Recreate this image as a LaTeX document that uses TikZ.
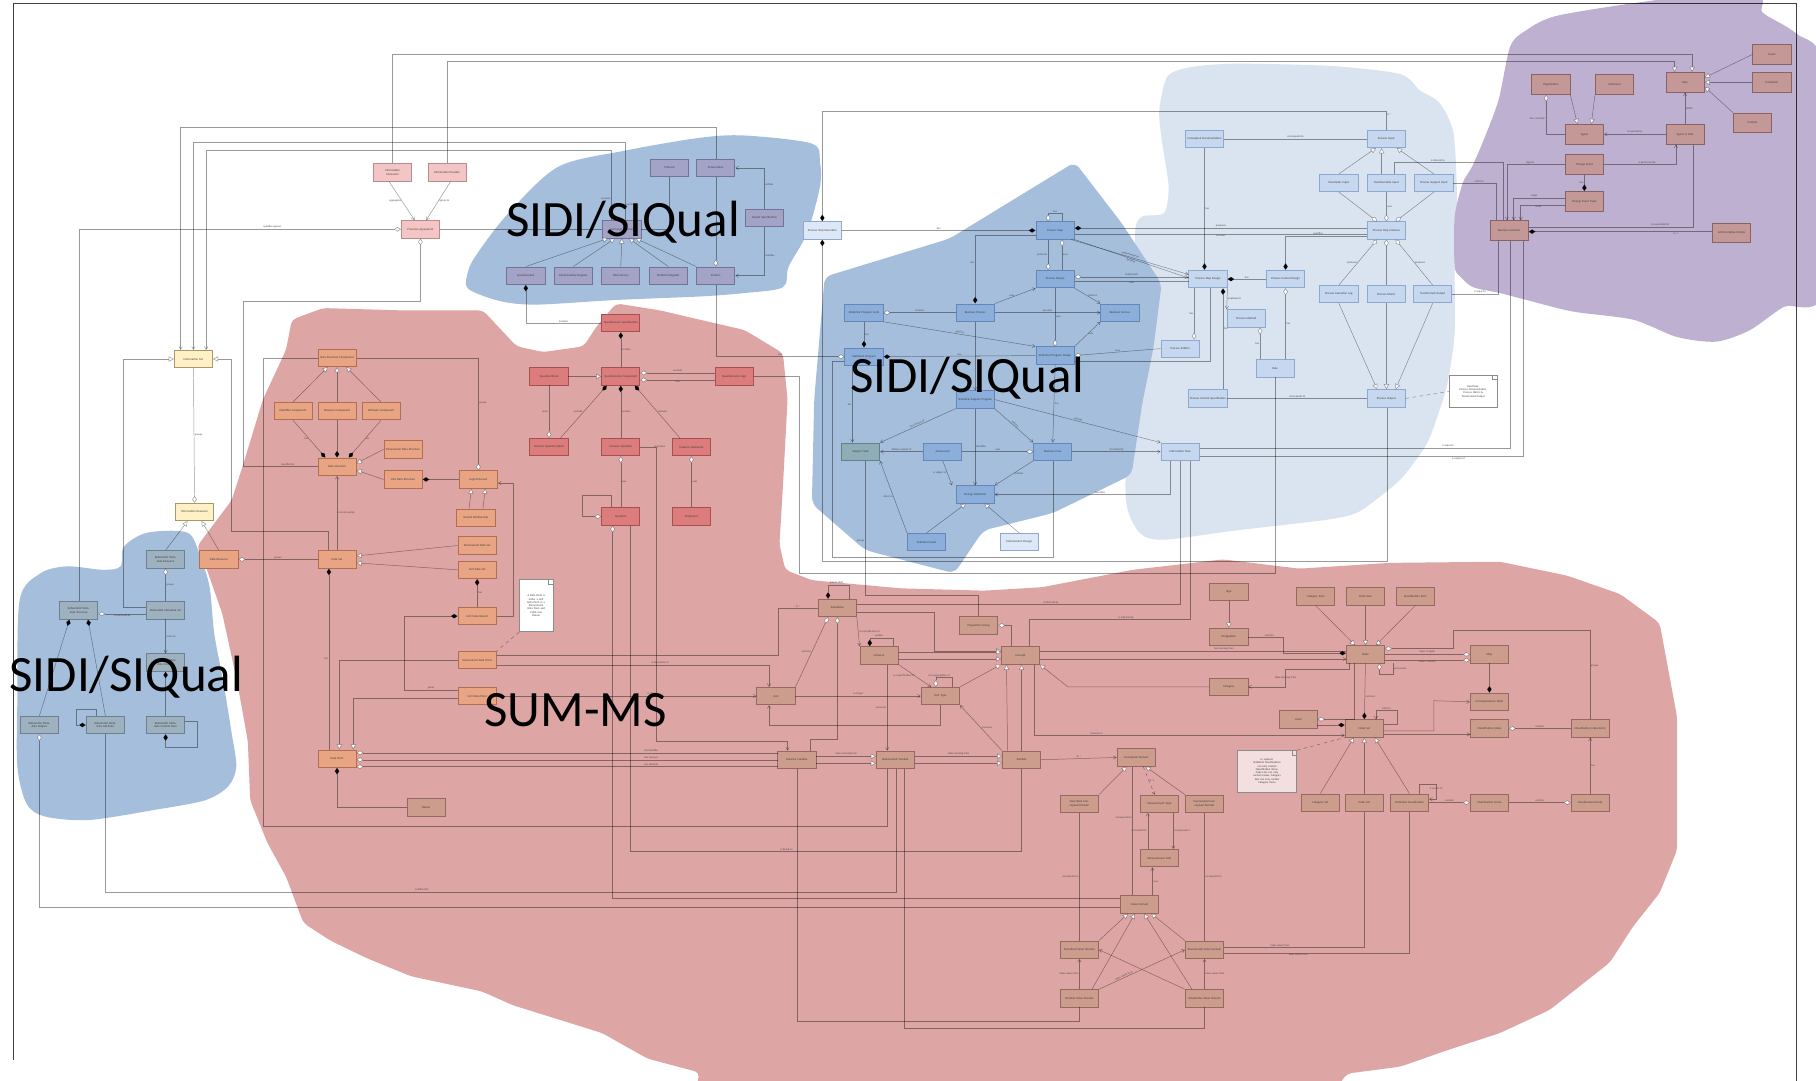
\documentclass[tikz,border=0pt]{standalone}
\usepackage{fontspec}
\setmainfont{Carlito}
\usetikzlibrary{arrows.meta}
\definecolor{blobB}{HTML}{A5BEDC}
\definecolor{blobL}{HTML}{DAE4F1}
\definecolor{blobP}{HTML}{BEB0D1}
\definecolor{blobR}{HTML}{DEA5A5}
\definecolor{pkF}{HTML}{F4C5C5}\definecolor{pkD}{HTML}{B88C8C}
\definecolor{ylF}{HTML}{FFF0C6}\definecolor{ylD}{HTML}{A89868}
\definecolor{tbF}{HTML}{A3A3C6}\definecolor{tbD}{HTML}{73739A}
\definecolor{gbF}{HTML}{9EB1BE}\definecolor{gbD}{HTML}{6E808D}
\definecolor{orF}{HTML}{E8A483}\definecolor{orD}{HTML}{B07050}
\definecolor{rqF}{HTML}{DC7C7C}\definecolor{rqD}{HTML}{A65050}
\definecolor{brF}{HTML}{CC9C8C}\definecolor{brD}{HTML}{946A60}
\definecolor{puF}{HTML}{C59898}\definecolor{puD}{HTML}{8A6262}
\definecolor{mbF}{HTML}{8CAEDA}\definecolor{mbD}{HTML}{6587B8}
\definecolor{tlF}{HTML}{8EADB5}\definecolor{tlD}{HTML}{62808A}
\definecolor{lbF}{HTML}{C6D8EF}\definecolor{lbD}{HTML}{8EA9CC}
\definecolor{ltF}{HTML}{DCE8F7}
\begin{document}
\begin{tikzpicture}[x=1pt,y=-1pt,
  cls/.style={rectangle,minimum width=33pt,minimum height=15pt,inner sep=1pt,text width=31pt,align=center,line width=0.7pt,font=\fontsize{2.6}{3}\selectfont,text=black!75},
  pkb/.style={cls,fill=pkF,draw=pkD},
  ylb/.style={cls,fill=ylF,draw=ylD},
  tbb/.style={cls,fill=tbF,draw=tbD},
  gbb/.style={cls,fill=gbF,draw=gbD},
  orb/.style={cls,fill=orF,draw=orD},
  rqb/.style={cls,fill=rqF,draw=rqD},
  brb/.style={cls,fill=brF,draw=brD},
  pub/.style={cls,fill=puF,draw=puD,minimum height=17pt},
  mbb/.style={cls,fill=mbF,draw=mbD},
  tlb/.style={cls,fill=tlF,draw=tlD},
  lbb/.style={cls,fill=lbF,draw=lbD},
  ltb/.style={cls,fill=ltF,draw=lbD},
  notebox/.style={rectangle,fill=white,draw=black!45,line width=0.5pt,inner sep=1pt,align=center,font=\fontsize{2.4}{2.8}\selectfont,text=black!75},
  ln/.style={draw=black,draw opacity=0.4,line width=0.42pt},
  gen/.style={-{Triangle[fill=white,length=4.5pt,width=4.5pt]}},
  ar/.style={-{Straight Barb[length=2.5pt,width=3pt]}},
  agg/.style={{Diamond[fill=white,length=6pt,width=4pt]}-},
  cmp/.style={{Diamond[length=6pt,width=4pt]}-},
  ml/.style={font=\fontsize{2.3}{2.6}\selectfont,text=black!70,inner sep=0.6pt},
  biglbl/.style={font=\fontsize{44}{50}\selectfont,text=black,inner sep=0pt,anchor=base west}
]
\useasboundingbox (0,0) rectangle (1568,933);
\fill[white] (0,0) rectangle (1568,933);

% ---------------- blobs ----------------
\fill[blobR,rounded corners=4pt] (247,302) -- (252,276) -- (279,266) -- (347,268) -- (417,268) -- (446,299) -- (469,304) -- (504,299) -- (515,282) -- (532,262) -- (570,268) -- (604,276) -- (643,285) -- (676,305) -- (680,345) -- (676,420) -- (673,470) -- (678,492) -- (701,501) -- (778,508) -- (850,510) -- (900,507) -- (978,492) -- (1056,483) -- (1122,491) -- (1200,486) -- (1295,485) -- (1353,497) -- (1399,513) -- (1433,538) -- (1448,619) -- (1448,734) -- (1433,771) -- (1410,800) -- (1390,831) -- (1338,872) -- (1295,892) -- (1249,907) -- (1209,921) -- (1163,927) -- (1150,945) -- (600,945) -- (604,926) -- (559,914) -- (520,892) -- (443,868) -- (416,856) -- (355,843) -- (316,827) -- (285,812) -- (262,797) -- (247,757) -- (231,728) -- (216,691) -- (214,640) -- (205,590) -- (192,530) -- (178,490) -- (170,472) -- (200,432) -- (210,401) -- (227,345) -- cycle;
\fill[blobL] plot[smooth cycle,tension=0.45] coordinates {(1001,95) (1008,66) (1028,58) (1067,55) (1150,57) (1209,64) (1226,78) (1243,89) (1255,115) (1258,173) (1256,230) (1256,288) (1250,330) (1243,354) (1232,383) (1211,412) (1190,430) (1171,443) (1144,449) (1067,458) (1005,466) (984,460) (972,430) (975,340) (982,260) (980,201) (986,187) (1005,184) (1009,161) (1003,120)};
\fill[blobP] plot[smooth cycle,tension=0.45] coordinates {(1304,40) (1318,26) (1347,13) (1448,-2) (1518,-2) (1522,11) (1551,29) (1575,60) (1575,250) (1540,265) (1511,285) (1482,295) (1448,291) (1410,276) (1358,269) (1318,259) (1295,253) (1272,248) (1261,239) (1256,230) (1256,187) (1263,158) (1271,144) (1281,121) (1294,86)};
\fill[blobB,rounded corners=6pt] (712,239) -- (820,206) -- (928,140) -- (968,192) -- (1003,245) -- (996,300) -- (986,350) -- (977,410) -- (909,443) -- (849,458) -- (824,495) -- (747,475) -- (701,435) -- (703,345) -- cycle;
\fill[blobB] plot[smooth cycle,tension=0.5] coordinates {(403,239) (410,222) (439,184) (482,144) (540,130) (604,119) (643,117) (701,124) (708,140) (708,161) (697,201) (681,230) (676,248) (643,253) (604,256) (532,259) (463,263) (432,260) (405,250)};
\fill[blobB] plot[smooth cycle,tension=0.5] coordinates {(17,518) (35,495) (58,489) (89,492) (104,489) (107,472) (127,460) (162,460) (173,481) (181,507) (185,547) (193,590) (200,633) (204,662) (197,679) (177,691) (135,699) (77,708) (39,705) (23,694) (15,662) (15,604)};

% ---------------- frame ----------------
\draw[black,draw opacity=0.75,line width=1pt] (12,915) -- (12,3) -- (1551,3) -- (1551,933);

% ---------------- nodes ----------------
\node[pkb] (p1) at (339,149) {Information\\Consumer};
\node[pkb] (p2) at (386,149) {Information Provider};
\node[pkb] (p3) at (363,198) {Provision Agreement};
\node[ylb] (y1) at (167,310) {Information Set};
\node[ylb] (y2) at (168,442) {Information Resource};

\node[tbb] (tb0) at (537,198) {Exchange Channel};
\node[tbb] (tb1) at (578,145) {Protocol};
\node[tbb] (tb2) at (618,145) {Presentation};
\node[tbb] (tb3) at (660,188) {Output Specification};
\node[tbb] (tb4) at (454,238) {Questionnaire};
\node[tbb] (tb5) at (495,238) {Administrative Register};
\node[tbb] (tb6) at (536,238) {Web Service};
\node[tbb] (tb7) at (577,238) {Statistical Register};
\node[tbb] (tb8) at (618,238) {Product};

\node[gbb] (g1) at (143,483) {Referential Metadata Resource};
\node[gbb] (g2) at (68,527) {Referential Metadata Structure};
\node[gbb] (g3) at (143,527) {Referential Metadata Set};
\node[gbb] (g4) at (143,572) {Referential Metadata Content};
\node[gbb] (g5) at (34,626) {Referential Metadata Subject};
\node[gbb] (g6) at (91,626) {Referential Metadata Attribute};
\node[gbb] (g7) at (143,626) {Referential Metadata Content Item};

\node[orb] (o1) at (291,309) {Data Structure Component};
\node[orb] (o2) at (253,355) {Identifier Component};
\node[orb] (o3) at (291,355) {Measure Component};
\node[orb] (o4) at (329,355) {Attribute Component};
\node[orb] (o5) at (348,388) {Dimensional Data Structure};
\node[orb] (o6) at (291,403) {Data Structure};
\node[orb] (o7) at (348,414) {Unit Data Structure};
\node[orb] (o8) at (413,414) {Logical Record};
\node[orb] (o9) at (411,447) {Record Relationship};
\node[orb] (o10) at (189,483) {Data Resource};
\node[orb] (o11) at (291,483) {Data Set};
\node[orb] (o12) at (412,471) {Dimensional Data Set};
\node[orb] (o13) at (412,492) {Unit Data Set};
\node[orb] (o14) at (412,532) {Unit Data Record};
\node[orb] (o15) at (412,570) {Dimensional Data Point};
\node[orb] (o16) at (412,601) {Unit Data Point};
\node[orb] (o17) at (291,655) {Data Point};
\node[brb] (o18) at (368,697) {Datum};
\node[notebox,minimum width=29pt,minimum height=45pt,text width=26pt] (note1) at (463,523) {A Data Point is\\either a Unit\\Data Point or a\\Dimensional\\Data Point and\\holds one\\Datum};

\node[rqb] (rq1) at (536,279) {Questionnaire Specification};
\node[rqb] (rq2) at (474,325) {Question Block};
\node[rqb] (rq3) at (536,325) {Questionnaire Component};
\node[rqb] (rq4) at (634,325) {Questionnaire Logic};
\node[rqb] (rq5) at (474,386) {Instance Question Block};
\node[rqb] (rq6) at (536,386) {Instance Question};
\node[rqb] (rq7) at (597,386) {Instance Statement};
\node[rqb] (rq8) at (536,446) {Question};
\node[rqb] (rq9) at (597,446) {Statement};

\node[brb] (b1) at (723,525) {Population};
\node[brb] (b2) at (845,540) {Population Group};
\node[brb] (b3) at (759,566) {Universe};
\node[brb] (b4) at (881,566) {Concept};
\node[brb] (b5) at (670,601) {Unit};
\node[brb] (b6) at (812,601) {Unit Type};
\node[brb] (b7) at (688,656) {Instance Variable};
\node[brb] (b8) at (773,656) {Represented Variable};
\node[brb] (b9) at (882,656) {Variable};
\node[brb] (b10) at (981,654) {Conceptual Domain};
\node[brb] (b11) at (932,694) {Described Conceptual Domain};
\node[brb] (b12) at (1001,694) {Measurement Type};
\node[brb] (b13) at (1040,694) {Enumerated Conceptual Domain};
\node[brb] (b14) at (1001,741) {Measurement Unit};
\node[brb] (b15) at (984,781) {Value Domain};
\node[brb] (b16) at (932,820) {Described Value Domain};
\node[brb] (b17) at (1040,820) {Enumerated Value Domain};
\node[brb] (b18) at (932,862) {Sentinel Value Domain};
\node[brb] (b19) at (1040,862) {Substantive Value Domain};

\node[brb] (c1) at (1061,511) {Sign};
\node[brb] (c2) at (1061,550) {Designation};
\node[brb] (c3) at (1061,593) {Category};
\node[brb] (c4) at (1136,515) {Category Item};
\node[brb] (c5) at (1179,515) {Code Item};
\node[brb] (c6) at (1222,515) {Classification Item};
\node[brb] (c7) at (1179,565) {Node};
\node[brb] (c8) at (1286,565) {Map};
\node[brb] (c9) at (1286,606) {Correspondence Table};
\node[brb] (c10) at (1121,621) {Level};
\node[brb] (c11) at (1178,629) {Node Set};
\node[brb] (c12) at (1286,629) {Classification Index};
\node[brb] (c13) at (1373,629) {Classification Index Entry};
\node[brb] (c14) at (1140,693) {Category Set};
\node[brb] (c15) at (1178,693) {Code List};
\node[brb] (c16) at (1217,693) {Statistical Classification};
\node[brb] (c17) at (1286,693) {Classification Series};
\node[brb] (c18) at (1373,693) {Classification Family};
\node[notebox,minimum width=51pt,minimum height=36pt,text width=48pt,fill=blobR!35] (note2) at (1094,666) {In systems:\\Statistical Classifications\\can only contain\\Classification Items,\\Code Lists can only\\contain Codes, Category\\Sets can only contain\\Category Items};

\node[pub] (u1) at (1339,73) {Organization};
\node[pub] (u2) at (1394,73) {Individual};
\node[pub] (u3) at (1455,71) {Role};
\node[pub] (u4) at (1530,47) {Guest};
\node[pub] (u5) at (1530,71) {Institution};
\node[pub] (u6) at (1513,106) {Context};
\node[pub] (u7) at (1368,116) {Agent};
\node[pub] (u8) at (1455,116) {Agent in Role};
\node[pub] (u9) at (1368,142) {Change Event};
\node[pub] (u10) at (1368,174) {Change Event Tuple};
\node[pub] (u11) at (1303,199) {Business Function};
\node[pub] (u12) at (1495,201) {Administrative Details};

\node[ltb] (m0) at (710,199) {Process Step Execution};
\node[mbb] (m1) at (911,199) {Process Step};
\node[mbb] (m2) at (911,241) {Process Design};
\node[mbb] (m3) at (746,270) {Statistical Program Cycle};
\node[mbb] (m4) at (842,270) {Business Process};
\node[mbb] (m5) at (967,270) {Business Service};
\node[mbb] (m6) at (746,308) {Statistical Program};
\node[mbb] (m7) at (911,307) {Statistical Program Design};
\node[mbb] (m8) at (842,345) {Statistical Support Program};
\node[tlb] (m9) at (743,390) {Subject Field};
\node[mbb] (m10) at (814,390) {Assessment};
\node[mbb] (m11) at (909,390) {Business Case};
\node[mbb] (m12) at (842,427) {Change Definition};
\node[mbb] (m13) at (800,468) {Statistical Need};
\node[ltb] (m14) at (880,468) {Environment Change};

\node[lbb] (l1) at (1040,120) {Conceptual Documentation};
\node[lbb] (l2) at (1197,120) {Process Input};
\node[lbb] (l3) at (1156,158) {Parameter Input};
\node[lbb] (l4) at (1197,158) {Transformable Input};
\node[lbb] (l5) at (1238,158) {Process Support Input};
\node[lbb] (l6) at (1197,199) {Process Step Instance};
\node[lbb] (l7) at (1043,241) {Process Step Design};
\node[lbb] (l8) at (1110,241) {Process Control Design};
\node[lbb] (l9) at (1156,254) {Process Execution Log};
\node[lbb] (l10) at (1197,254) {Process Metric};
\node[lbb] (l11) at (1237,254) {Transformed Output};
\node[lbb] (l12) at (1076,275) {Process Method};
\node[lbb] (l13) at (1019,301) {Process Pattern};
\node[lbb] (l14) at (1101,318) {Rule};
\node[lbb] (l15) at (1043,344) {Process Control Specification};
\node[lbb] (l16) at (1197,344) {Process Output};
\node[lbb] (l17) at (1019,390) {Information Flow};
\node[notebox,minimum width=41pt,minimum height=28pt,text width=38pt] (note3) at (1272,338) {Describes:\\Process Documentation,\\Process Metric \&\\Transformed Output};

\foreach \n in {note1,note2,note3} \draw[black!45,line width=0.5pt] ([xshift=-4pt]\n.north east) -- ([xshift=-4pt,yshift=-4pt]\n.north east) -- ([yshift=-4pt]\n.north east);

% ---------------- connectors: top / left ----------------
\draw[ln,gen] (p1.north) |- (1461,47) -- ([xshift=6]u3.north);
\draw[ln,gen] (p2.north) |- (1446,53) -- ([xshift=-9]u3.north);
\draw[ln,ar] ([xshift=-3]p1.south) -- node[ml,left]{aggregates} ([xshift=-5]p3.north);
\draw[ln,ar] ([xshift=3]p2.south) -- node[ml,right]{agrees to} ([xshift=5]p3.north);
\draw[ln,agg] (p3.west) -| node[ml,above,pos=0.2]{specifies agreed} (g2.north);
\draw[ln] (p3.east) -- (tb0.west);
\draw[ln,agg] (p3.south) |- (210,260) |- node[ml,above,pos=0.8]{specified by} (o6.west);
\draw[ln,ar] (tb2.north) |- (156,110) -- ([xshift=-11]y1.north);
\draw[ln,ar] ([xshift=3]tb0.north) |- node[ml,right,pos=0.1]{produces} (167,123) -- (y1.north);
\draw[ln,ar] ([xshift=-9]tb0.north) |- node[ml,left,pos=0.15]{accesses} (178,130) -- ([xshift=11]y1.north);
\draw[ln,gen] ([yshift=3]g3.west) -| (106,310) -- (y1.west);
\draw[ln,gen] ([xshift=-8]o11.north) |- (200,459) -- (200,310) -- (y1.east);
\draw[ln,agg] (y2.north) -- node[ml,right]{groups} (y1.south);
\draw[ln,gen] (g1.north) -- ([xshift=-6]y2.south);
\draw[ln,gen] (o10.north) -- ([xshift=6]y2.south);
\draw[ln,agg] (g1.south) -- node[ml,right]{groups} (g3.north);
\draw[ln,agg] ([yshift=-3]g2.east) -- node[ml,below]{is structured by} ([yshift=-3]g3.west);
\draw[ln,ar] (g3.south) -- node[ml,right]{refers to} (g4.north);
\draw[ln,cmp] ([xshift=-8]g2.south) -- (g5.north);
\draw[ln,cmp] ([xshift=8]g2.south) -- (g6.north);
\draw[ln,cmp] (g6.west) -- (66,626) -- (66,612) -- (83,612) -- ([xshift=-8]g6.north);
\draw[ln,cmp] (g4.south) -- (g7.north);
\draw[ln,cmp] (g7.south) |- (170,645) |- ([yshift=3]g7.east);
\draw[ln,agg] (g5.south) |- ([yshift=-2]b15.west);
\draw[ln] (g6.south) |- node[ml,above,pos=0.7]{is defined by} (774,770) -- ([xshift=1]b8.south);

% ---------------- connectors: exchange channel ----------------
\foreach \n/\s in {tb4/-12,tb5/-6,tb6/0,tb7/6} \draw[ln,gen] (\n.north) -- ([xshift=\s]tb0.south);
\draw[ln,gen] (tb8.north west) -- ([xshift=12]tb0.south);
\draw[ln,agg] (tb8.north) -- (tb2.south);
\draw[ln,ar] (tb3.north) |- node[ml,right,pos=0.3]{defines} (tb2.east);
\draw[ln,ar] (tb3.south) |- node[ml,right,pos=0.3]{specifies} (tb8.east);
\draw[ln] (tb1.south) |- (tb0.east);
\draw[ln,cmp] (tb4.south) |- node[ml,above,pos=0.75]{includes} (rq1.west);
\draw[ln,agg] (m6.west) -| node[ml,above,pos=0.25]{has} (tb8.south);

% ---------------- connectors: data (orange) ----------------
\draw[ln,gen] (o2.north) -- ([xshift=-8]o1.south);
\draw[ln,gen] (o3.north) -- (o1.south);
\draw[ln,gen] (o4.north) -- ([xshift=8]o1.south);
\draw[ln,cmp] ([xshift=-10]o6.north) -- node[ml,left]{has} (o2.south);
\draw[ln,cmp] (o6.north) -- (o3.south);
\draw[ln,cmp] ([xshift=10]o6.north) -- node[ml,right]{has} (o4.south);
\draw[ln,gen] (o5.west) -- ([yshift=3]o6.east);
\draw[ln,gen] (o7.west) -- ([yshift=-3]o6.east);
\draw[ln,cmp] (o7.east) -- (o8.west);
\draw[ln,gen] ([xshift=-6]o9.north) -- ([xshift=-6]o8.south);
\draw[ln,gen] ([xshift=6]o9.north) -- ([xshift=6]o8.south);
\draw[ln,agg] (o8.north) |- node[ml,right,pos=0.3]{groups} (o1.east);
\draw[ln] (o1.west) -| (227,713) -| ([xshift=-7]b8.south);
\draw[ln,ar] (o11.north) -- node[ml,right]{is structured by} (o6.south);
\draw[ln,agg] (o10.east) -- node[ml,above]{groups} (o11.west);
\draw[ln,gen] (o12.west) -- ([yshift=3]o11.east);
\draw[ln,gen] (o13.west) -- ([yshift=-3]o11.east);
\draw[ln,cmp] (o13.south) -- node[ml,right]{has} (o14.north);
\draw[ln,ar] (o14.east) -- (443,532) |- ([yshift=-3]o8.east);
\draw[ln,cmp] (o14.west) -| (349,596) -- node[ml,above]{group} ([yshift=5]o16.west);
\draw[ln,gen] (o15.west) -| ([xshift=2]o17.north);
\draw[ln,gen] ([yshift=-2]o16.west) -| ([xshift=14]o17.north);
\draw[ln,cmp] ([xshift=-7]o11.south) -- node[ml,left]{has} ([xshift=-7]o17.north);
\draw[ln,agg] ([yshift=5]o17.east) -- node[ml,above,pos=0.7]{has identifier} (671.5,650);
\draw[ln,agg] ([yshift=-1]o17.east) -- node[ml,above,pos=0.7]{has measure} (671.5,656);
\draw[ln,agg] ([yshift=-7]o17.east) -- node[ml,above,pos=0.7]{has attribute} (671.5,662);
\draw[ln,cmp] (o17.south) |- (o18.west);
\draw[ln] ([yshift=4]o15.east) -| (672,525) -- node[ml,above]{0..*} (b1.west);
\draw[ln,ar] ([yshift=-4]o15.east) -| node[ml,above,pos=0.3]{is description of} ([xshift=-6]b5.north);
\draw[ln,ar] (o16.east) -- node[ml,above,pos=0.6]{is of type} (b5.west);
\draw[ln,dashed] (note1.south west) -- (o15.north east);

% ---------------- connectors: questionnaire ----------------
\draw[ln,cmp] (rq1.south) -- node[ml,right]{includes} (rq3.north);
\draw[ln,gen] (rq2.east) -- (rq3.west);
\draw[ln,agg] ([yshift=3]rq3.east) -- node[ml,above]{contains} (617.5,322);
\draw[ln,agg] ([yshift=-3]rq3.east) -- node[ml,below]{flow} (617.5,328);
\draw[ln,cmp] ([xshift=-12]rq3.south) -- node[ml,left]{includes} ([xshift=10]rq5.north);
\draw[ln,cmp] (rq3.south) -- node[ml,right]{includes} (rq6.north);
\draw[ln,cmp] ([xshift=12]rq3.south) -- node[ml,right]{includes} ([xshift=-10]rq7.north);
\draw[ln,agg] (rq5.north) -- node[ml,left]{starts} (rq2.south);
\draw[ln,agg] (rq6.south) -- node[ml,right]{uses} (rq8.north);
\draw[ln,agg] (rq7.south) -- node[ml,right]{uses} (rq9.north);
\draw[ln,agg] (rq8.west) -| (503,428) -| ([xshift=-8]rq8.north);
\draw[ln,agg] ([xshift=-7]rq8.south) |- ([yshift=5]b15.west);
\draw[ln] ([xshift=8]rq8.south) |- node[ml,above,pos=0.7]{is based on} (882,735) -- (b9.south);
\draw[ln,ar] (rq6.east) -| node[ml,right,pos=0.4]{populates} (567,640) -| ([xshift=-8]b7.north);
\draw[ln] (rq4.east) -| (690,495) -| (l14.south);

% ---------------- connectors: process (mid blue) ----------------
\draw[ln,cmp] (m0.north) |- (1197,96) -- node[ml,right,pos=0.2]{0..*} (l2.north);
\draw[ln,cmp] (m0.south) |- (1198,485) -- ([xshift=1]l16.south);
\draw[ln,cmp] (m1.west) -- node[ml,above]{has} (m0.east);
\draw[ln,agg] ([xshift=-6]m1.north) -- (905,184) -| node[ml,above,pos=0.25]{has} ([xshift=6]m1.north);
\draw[ln,cmp] ([yshift=2]m1.east) -- node[ml,above,pos=0.5]{produces} (1180.5,197);
\draw[ln] ([yshift=-3]m1.east) -- node[ml,below,pos=0.5]{receives} (1180.5,202);
\draw[ln,agg] ([xshift=-6]m2.north) -- node[ml,left]{performs} ([xshift=-6]m1.south);
\draw[ln,agg] ([xshift=6]m1.south) -- node[ml,right]{uses} ([xshift=6]m2.north);
\draw[ln,ar] ([xshift=-3]m1.south east) -- node[ml,above,sloped]{implemented by} ([yshift=4]l7.west);
\draw[ln,ar] (m1.south east) -- node[ml,below,sloped]{specifies} ([yshift=1]l7.west);
\draw[ln,agg] ([yshift=2]m2.east) -- node[ml,above]{implements} (1026.5,239);
\draw[ln] ([yshift=-2]m2.east) -- node[ml,below]{uses} (1026.5,243);
\draw[ln,ar] (m2.south east) -- node[ml,right]{delivers} (m5.north west);
\draw[ln,ar] (m4.north east) -- node[ml,left]{uses} (m2.south west);
\draw[ln,cmp] (m4.north) |- node[ml,left,pos=0.3]{has} ([yshift=-4]m1.west);
\draw[ln,agg] (m3.east) -- node[ml,above]{includes} (m4.west);
\draw[ln,ar] (m4.east) -- node[ml,above]{provides} (m5.west);
\draw[ln,cmp] (m6.north) -- node[ml,right]{has} (m3.south);
\draw[ln,cmp] (m6.east) -- node[ml,above]{has} (m7.west);
\draw[ln,ar] (m3.south east) -- node[ml,above,sloped]{governs} (m7.north west);
\draw[ln,agg] (m7.north) -- node[ml,right]{uses} (m2.south);
\draw[ln,ar] (m7.north east) -- node[ml,right]{uses} (m5.south west);
\draw[ln,agg] (m7.east) -- node[ml,above]{uses} (l13.west);
\draw[ln] ([yshift=-5]m7.east) -| ([xshift=2]l7.south);
\draw[ln,ar] (m4.south) -- node[ml,right]{has} (m8.north);
\draw[ln,ar] (m7.south) -- node[ml,right]{has} (m11.north);
\draw[ln,ar] ([xshift=-10]m6.south) -- node[ml,left]{has} ([xshift=-7]m9.north);
\draw[ln,ar] (m8.south west) -- node[ml,above,sloped]{has interest of} (m9.north east);
\draw[ln,ar] (m8.south east) -- node[ml,above,sloped]{initiates} (m11.north west);
\draw[ln,ar] (m8.south) -- node[ml,right]{identifies} (m12.north);
\draw[ln,ar] (m8.east) -- node[ml,above,sloped]{initiates} (l17.north west);
\draw[ln,ar] (m10.west) -- node[ml,above]{defines content of} (m9.east);
\draw[ln,agg] (m11.west) -- node[ml,above]{uses} (m10.east);
\draw[ln,ar] (m10.south) -- node[ml,left]{is subject of} ([xshift=-20]m12.north);
\draw[ln,ar] (m11.south west) -- node[ml,right]{initiates} (m12.north east);
\draw[ln,gen] (m13.north) -- ([xshift=-8]m12.south);
\draw[ln,gen] (m14.north) -- ([xshift=8]m12.south);
\draw[ln,ar] (m13.north west) -- node[ml,left]{refers to} (m9.south east);
\draw[ln] ([xshift=4]m9.south) |- node[ml,left,pos=0.3]{groups} (845,514) -- (b2.north);
\draw[ln,ar] (m11.east) -- node[ml,above]{is handled by} (l17.west);
\draw[ln,ar] ([xshift=-9]l17.south) |- node[ml,above,pos=0.7]{describes} (m12.east);
\draw[ln] (l17.south) |- node[ml,above,pos=0.7]{is informed by} ([yshift=3]b1.east);
\draw[ln] ([xshift=9]l17.south) |- node[ml,above,pos=0.7]{is informed by} (889,535) -- ([xshift=8]b4.north);
\draw[ln] ([yshift=3]l17.east) -| node[ml,above,pos=0.4]{is input to} ([xshift=1]u11.south);
\draw[ln] ([yshift=-4]l17.east) -| node[ml,below,pos=0.4]{is output of} ([xshift=12]u11.south);
\draw[ln] ([yshift=-4]m6.west) -| (719,481) -| (m11.south);

% ---------------- connectors: light blue ----------------
\draw[ln] (l1.east) -- node[ml,above]{corresponds to} (l2.west);
\draw[ln,cmp] ([xshift=-3]l7.north) -- node[ml,right]{has} (l1.south);
\draw[ln,gen] (l3.north) -- ([xshift=-9]l2.south);
\draw[ln,gen] ([xshift=-4]l4.north) -- ([xshift=-4]l2.south);
\draw[ln,gen] (l5.north) -- ([xshift=9]l2.south);
\draw[ln] ([xshift=7]l4.north) |- node[ml,above,pos=0.7]{is referred to} (1298,140) -- ([xshift=-5]u11.north);
\draw[ln] (l5.east) -| node[ml,above,pos=0.3]{refers to} ([xshift=-11]u11.north);
\draw[ln,agg] ([xshift=-8]l6.north) -- (l3.south);
\draw[ln,agg] (l6.north) -- node[ml,right]{uses} (l4.south);
\draw[ln,agg] ([xshift=8]l6.north) -- (l5.south);
\draw[ln,agg] ([xshift=-8]l6.south) -- node[ml,left]{produces} (l9.north);
\draw[ln,agg] (l6.south) -- (l10.north);
\draw[ln,agg] ([xshift=8]l6.south) -- node[ml,right]{produces} (l11.north);
\draw[ln,gen] (l9.south) -- ([xshift=-8]l16.north);
\draw[ln,gen] (l10.south) -- (l16.north);
\draw[ln,gen] (l11.south) -- ([xshift=8]l16.north);
\draw[ln] (l15.east) -- node[ml,above]{corresponds to} (l16.west);
\draw[ln,dashed] (l16.east) -- (note3.west);
\draw[ln,cmp] ([xshift=13]l7.south) -- node[ml,right,pos=0.4]{has} ([xshift=13]l15.north);
\draw[ln,cmp] (l7.east) -- node[ml,above]{has} (l8.west);
\draw[ln,ar] (l7.south east) -- node[ml,right]{implements} (l12.north west);
\draw[ln,agg] ([xshift=12]l13.north) -- node[ml,left]{has} ([xshift=-12]l7.south);
\draw[ln,agg] ([xshift=12]l12.south) -- node[ml,left]{has} ([xshift=-13]l14.north);
\draw[ln,agg] (l8.south) -- node[ml,right]{has} ([xshift=9]l14.north);
\draw[ln,cmp] (l8.north) |- node[ml,above,pos=0.7]{specifies} ([yshift=-5]l6.west);
\draw[ln] (l11.east) -| node[ml,above,pos=0.3]{is input to} ([xshift=-9]u11.south);

% ---------------- connectors: purple ----------------
\draw[ln,gen] (u1.south east) -- ([xshift=-6]u7.north);
\draw[ln,gen] (u2.south west) -- ([xshift=6]u7.north);
\draw[ln,agg] ([xshift=-4]u1.south) |- node[ml,left,pos=0.3]{has a member} (u7.west);
\draw[ln,ar] (u8.west) -- node[ml,above]{is assumed by} (u7.east);
\draw[ln,ar] (u8.north) -- node[ml,right]{fulfills} (u3.south);
\draw[ln,gen] (u4.west) -- ([yshift=4]u3.east);
\draw[ln,gen] (u5.west) -- (u3.east);
\draw[ln,gen] (u6.north west) -- ([yshift=-4]u3.east);
\draw[ln,ar] (u9.east) -| node[ml,above,pos=0.3]{is performed by} ([xshift=-8]u8.south);
\draw[ln,cmp] (u10.north) -- node[ml,left]{has} (u9.south);
\draw[ln,ar] (u9.west) -| node[ml,above,pos=0.3]{regards} ([xshift=-2]u11.north);
\draw[ln,ar] ([yshift=3]u10.west) -| node[ml,above,pos=0.3]{origin} ([xshift=4]u11.north);
\draw[ln,ar] ([yshift=-3]u10.west) -| node[ml,below,pos=0.3]{result} ([xshift=10]u11.north);
\draw[ln] ([yshift=3]u11.east) -| node[ml,above,pos=0.4]{is responsible for} ([xshift=7]u8.south);
\draw[ln,cmp] ([yshift=-1]u11.east) -- node[ml,below,pos=0.8]{0..1} (1478.5,200);

% ---------------- connectors: concepts / variables ----------------
\draw[ln,cmp] ([xshift=-8]b1.north) |- node[ml,above,pos=0.7]{parent-child} (733,505) -- ([xshift=10]b1.north);
\draw[ln,gen] ([yshift=-4]b1.east) -| (807,562) -- (864.5,562);
\draw[ln,ar] (b1.south east) -- node[ml,right]{is a specification of} (b3.north west);
\draw[ln,agg] ([xshift=-8]b1.south) -- node[ml,left]{contains} (b5.north east);
\draw[ln,agg] (b1.south) -- (723,638) -| ([xshift=12]b7.north);
\draw[ln,cmp] ([xshift=-8]b3.north) |- node[ml,above,pos=0.7]{update} (771,551) -- ([xshift=12]b3.north);
\draw[ln,gen] ([yshift=3]b3.east) -- (864.5,563);
\draw[ln,gen] ([yshift=-3]b3.east) -- (864.5,569);
\draw[ln,ar] (b3.south east) -- node[ml,left]{is a specification of} ([xshift=-8]b6.north);
\draw[ln,agg] ([xshift=-4]b6.north) |- node[ml,above,pos=0.6]{is an aggregation of} (822,585) -- ([xshift=10]b6.north);
\draw[ln,gen] (b6.north east) -- (b4.south west);
\draw[ln,ar] (b5.east) -- node[ml,above]{is of type} (b6.west);
\draw[ln,ar] (b6.south) |- (664,626) -- ([xshift=-6]b5.south);
\draw[ln,ar] ([xshift=7]b3.south) -- node[ml,left]{measures} ([xshift=-7]b8.north);
\draw[ln,gen] ([xshift=-12]b9.north) -- ([xshift=-12]b4.south);
\draw[ln,gen] (b9.north) -- ([xshift=1]b4.south);
\draw[ln,ar] (b9.north west) -- node[ml,right]{measures} (b6.south east);
\draw[ln,ar] ([xshift=12]b4.south) |- node[ml,above,pos=0.6]{is based on} ([yshift=-6]c11.west);
\draw[ln] ([yshift=4]b4.east) -- node[ml,above,pos=0.6]{has meaning from} (1162.5,562);
\draw[ln,ar] ([yshift=-3]b4.east) -- (1162.5,569);
\draw[ln,gen] (c3.west) -- (922,593) -- (b4.south east);
\draw[ln,agg] (b2.east) -| ([xshift=-8]b4.north);
\draw[ln,gen] ([yshift=3]b7.east) -- node[ml,above]{takes meaning from} (756.5,653);
\draw[ln,gen] ([yshift=-3]b7.east) -- (756.5,659);
\draw[ln,gen] ([yshift=3]b8.east) -- node[ml,above]{takes meaning from} (865.5,653);
\draw[ln,gen] ([yshift=-3]b8.east) -- (865.5,659);
\draw[ln,ar] (b9.east) -- node[ml,above]{0..*} (b10.west);
\draw[ln,gen] (b11.north east) -- ([xshift=-8]b10.south);
\draw[ln,gen] (b13.north west) -- ([xshift=8]b10.south);
\draw[ln,ar,dashed] ([xshift=6]b10.south) -- node[ml,right]{0..1} ([xshift=-4]b12.north);
\draw[ln] ([xshift=-3]b10.south) -- node[ml,left,pos=0.4]{corresponds to} ([xshift=-6]b15.north);
\draw[ln,ar] ([xshift=-10]b14.north) -- node[ml,left]{is standard for} ([xshift=-10]b12.south);
\draw[ln,ar] ([xshift=12]b12.south) -- node[ml,right]{is expressed in} ([xshift=12]b14.north);
\draw[ln,ar] ([xshift=11]b15.north) -- node[ml,right]{uses} ([xshift=-6]b14.south);
\draw[ln] (b11.south) -- node[ml,left]{corresponds to} (b16.north);
\draw[ln] (b13.south) -- node[ml,right]{corresponds to} (b17.north);
\draw[ln,gen] (b16.north east) -- ([xshift=-10]b15.south);
\draw[ln,gen] ([xshift=-6]b18.north east) -- ([xshift=-4]b15.south);
\draw[ln,gen] ([xshift=6]b19.north west) -- ([xshift=4]b15.south);
\draw[ln,gen] (b17.north west) -- ([xshift=10]b15.south);
\draw[ln,ar] (b18.north) -- node[ml,left]{takes values from} (b16.south);
\draw[ln,ar] (b19.north) -- node[ml,right]{takes values from} (b17.south);
\draw[ln,ar] (b18.north east) -- node[ml,above,sloped,pos=0.3]{takes values from} (b17.west);
\draw[ln,ar] (b19.north west) -- (b16.east);
\draw[ln] (b7.south) |- (932,882) -- (b18.south);
\draw[ln] ([xshift=8]b8.south) |- (1040,888) -- (b19.south);
\draw[ln] (c15.south) |- node[ml,above,pos=0.8]{takes values from} ([yshift=2]b17.east);
\draw[ln] (c16.south) |- node[ml,below,pos=0.8]{takes values from} ([yshift=-3]b17.east);

% ---------------- connectors: classification ----------------
\draw[ln,gen] (c1.south) -- (c2.north);
\draw[ln,cmp] ([yshift=1]c7.west) -- (1108,564) |- node[ml,above,pos=0.7]{contains} (c2.east);
\draw[ln,ar] ([xshift=-14]c7.south) |- (1110,578) |- node[ml,above,pos=0.3]{takes meaning from} (c3.east);
\draw[ln,gen] (c4.south) -- ([xshift=-9]c7.north);
\draw[ln,gen] (c5.south) -- (c7.north);
\draw[ln,gen] (c6.south) -- ([xshift=9]c7.north);
\draw[ln,agg] ([xshift=12]c7.south) -- (1191,582) -- (1203,582) -- node[ml,right]{part-whole} (1203,572.5);
\draw[ln,cmp] (c11.north) -- node[ml,right,pos=0.4]{contains} (c7.south);
\draw[ln,agg] (c10.east) -| ([xshift=-10]c7.south);
\draw[ln,cmp] ([yshift=3]c11.west) -- (1137.5,626);
\draw[ln,ar] ([yshift=4]c11.east) -- (1206,625) -- (1206,613) -- node[ml,above]{refers to} (1188,613) -- ([xshift=10]c11.north);
\draw[ln,ar] ([yshift=-2]c11.east) -| (1238,605) -- (c9.west);
\draw[ln,ar] ([yshift=-5]c11.east) -- (1269.5,634);
\draw[ln,cmp] (c9.north) -- (c8.south);
\draw[ln,agg] (c8.west) -- node[ml,above]{maps + targets} (1195.5,565);
\draw[ln,agg] ([yshift=-5]c8.west) -- node[ml,below]{maps + sources} (1195.5,570);
\draw[ln,agg] ([yshift=5]c7.east) -- (1255,560) |- (1373,544) -- node[ml,right,pos=0.4]{groups} (c13.north);
\draw[ln,agg] (c12.east) -- node[ml,above]{contains} (c13.west);
\draw[ln,ar] (c18.north) -- node[ml,right]{has} (c13.south);
\draw[ln,gen] (c14.north) -- ([xshift=-9]c11.south);
\draw[ln,gen] (c15.north) -- (c11.south);
\draw[ln,gen] (c16.north) -- ([xshift=9]c11.south);
\draw[ln,dashed] (note2.north east) -- (c11.south west);
\draw[ln,ar] ([xshift=8]c16.north) |- (1240,677) |- node[ml,above,pos=0.2]{is variant of} ([yshift=3]c16.east);
\draw[ln,agg] (c17.west) -- node[ml,above]{contains} (c16.east);
\draw[ln,agg] (c18.west) -- node[ml,above]{contains} (c17.east);

% ---------------- big labels ----------------
\node[biglbl] at (437,204) {SIDI/SIQual};
\node[biglbl] at (734,339) {SIDI/SIQual};
\node[biglbl] at (8,597) {SIDI/SIQual};
\node[biglbl] at (418,627) {SUM-MS};
\end{tikzpicture}
\end{document}
